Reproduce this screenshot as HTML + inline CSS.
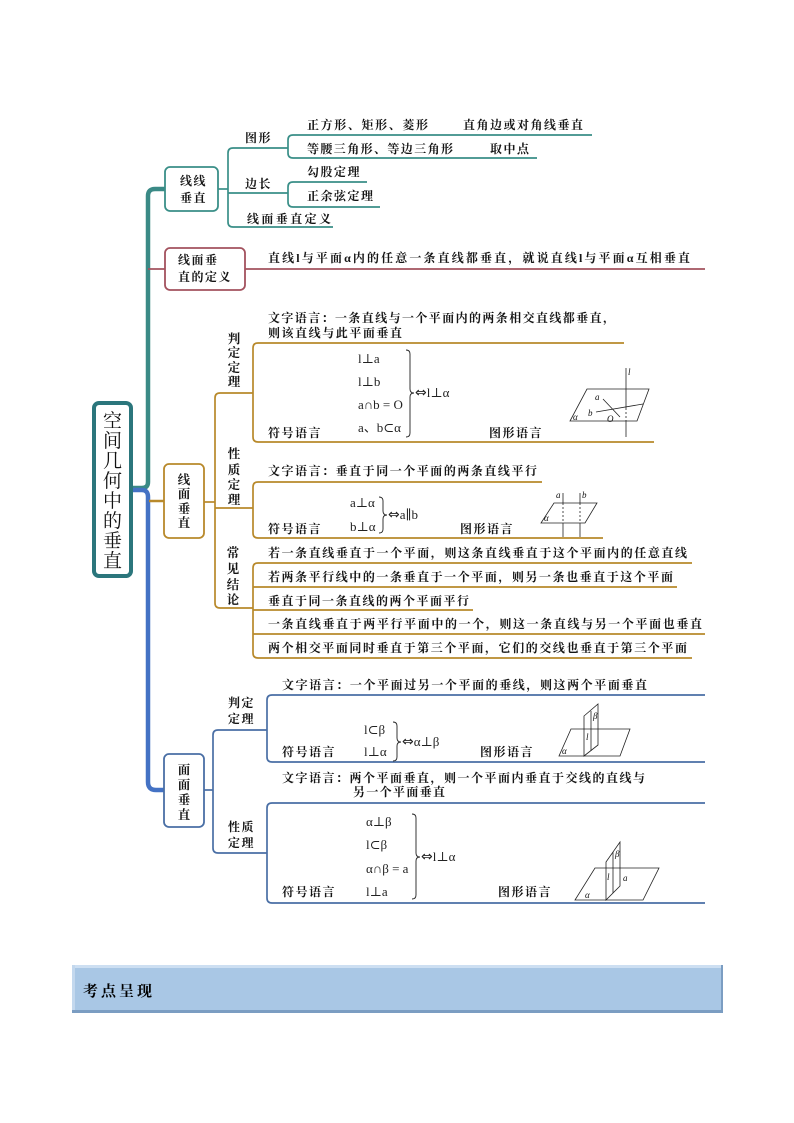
<!DOCTYPE html>
<html><head><meta charset="utf-8">
<style>
html,body{margin:0;padding:0;background:#fff;}
svg{display:block;}
.t{font-family:"Liberation Serif","Noto Serif CJK SC",serif;font-size:12px;font-weight:700;fill:#151515;letter-spacing:1.5px;}
.L{letter-spacing:0;}
.v{font-family:"Liberation Serif","Noto Serif CJK SC",serif;font-size:12.5px;font-weight:700;fill:#151515;text-anchor:middle;}
.r{font-family:"Liberation Serif","Noto Serif CJK SC",serif;font-size:19px;fill:#111;text-anchor:middle;}
.m{font-family:"Liberation Serif","DejaVu Serif",serif;font-size:13px;fill:#222;}
.ar{font-family:"DejaVu Sans",sans-serif;font-size:14px;}
.f{font-family:"Liberation Serif","DejaVu Serif",serif;font-size:9px;font-style:italic;fill:#111;}
.fig{stroke:#222;stroke-width:0.8;fill:none;}
.dash{stroke:#222;stroke-width:0.8;fill:none;stroke-dasharray:2 2;}
.br{stroke:#222;stroke-width:0.9;fill:none;}
.tl{stroke:#3a8f88;stroke-width:1.7;fill:none;}
.mr{stroke:#a3525e;stroke-width:1.7;fill:none;}
.bn{stroke:#b8892b;stroke-width:1.7;fill:none;}
.bl{stroke:#4a6fa5;stroke-width:1.7;fill:none;}
</style></head>
<body>
<svg width="794" height="1123" viewBox="0 0 794 1123" xmlns="http://www.w3.org/2000/svg">
<rect width="794" height="1123" fill="#fff"/>

<!-- trunks -->
<path d="M131,488 H142 Q148,488 148,482 V196 Q148,189 155,189 H165" stroke="#3a8a86" stroke-width="4.5" fill="none"/>
<path d="M148,269 H165" class="mr"/>
<path d="M131,490 H142 Q148,490 148,497 V782 Q148,790 156,790 H164" stroke="#4472c4" stroke-width="4.5" fill="none"/>
<path d="M149,501 H164" stroke="#b8892b" stroke-width="2.5" fill="none"/>

<!-- root box -->
<rect x="94" y="403" width="37" height="173" rx="5" fill="#fff" stroke="#2b767c" stroke-width="4"/>
<text class="r" x="112.5" y="427">空</text>
<text class="r" x="112.5" y="447">间</text>
<text class="r" x="112.5" y="467">几</text>
<text class="r" x="112.5" y="487">何</text>
<text class="r" x="112.5" y="507">中</text>
<text class="r" x="112.5" y="527">的</text>
<text class="r" x="112.5" y="547">垂</text>
<text class="r" x="112.5" y="567">直</text>

<!-- ===== 线线垂直 ===== -->
<rect x="165" y="167" width="53" height="44" rx="5" fill="#fff" stroke="#3a8f88" stroke-width="1.8"/>
<text class="t" x="180" y="185">线线</text>
<text class="t" x="180" y="202">垂直</text>
<path class="tl" d="M218,189 H228"/>
<path class="tl" d="M288,148 H233 Q228,148 228,153 V222 Q228,227 233,227 H333"/>
<path class="tl" d="M228,193 H288"/>
<path class="tl" d="M592,135 H293 Q288,135 288,140 V153 Q288,158 293,158 H537"/>
<path class="tl" d="M367,182 H293 Q288,182 288,187 V202 Q288,207 293,207 H380"/>
<text class="t" x="245" y="142">图形</text>
<text class="t" x="245" y="188">边长</text>
<text class="t L" x="247" y="223" textLength="84" lengthAdjust="spacing">线面垂直定义</text>
<text class="t L" x="307" y="129" textLength="121" lengthAdjust="spacing">正方形、矩形、菱形</text>
<text class="t L" x="463" y="129" textLength="120" lengthAdjust="spacing">直角边或对角线垂直</text>
<text class="t L" x="307" y="153" textLength="146" lengthAdjust="spacing">等腰三角形、等边三角形</text>
<text class="t" x="490" y="153">取中点</text>
<text class="t" x="307" y="176">勾股定理</text>
<text class="t" x="307" y="200">正余弦定理</text>

<!-- ===== 线面垂直的定义 ===== -->
<rect x="165" y="248" width="80" height="42" rx="5" fill="#fff" stroke="#a3525e" stroke-width="1.8"/>
<text class="t" x="178" y="264">线面垂</text>
<text class="t" x="178" y="281">直的定义</text>
<path class="mr" d="M245,269 H705"/>
<text class="t L" x="268" y="262" textLength="422" lengthAdjust="spacing">直线l与平面α内的任意一条直线都垂直，就说直线l与平面α互相垂直</text>

<!-- ===== 线面垂直 ===== -->
<rect x="164" y="464" width="40" height="74" rx="5" fill="#fff" stroke="#b8892b" stroke-width="1.8"/>
<text class="v" x="184" y="484">线</text>
<text class="v" x="184" y="498">面</text>
<text class="v" x="184" y="513">垂</text>
<text class="v" x="184" y="527">直</text>
<path class="bn" d="M204,502 H215"/>
<path class="bn" d="M253,393 H220 Q215,393 215,398 V603 Q215,608 220,608 H253"/>
<path class="bn" d="M215,508 H253"/>
<path class="bn" d="M624,343 H258 Q253,343 253,348 V437 Q253,442 258,442 H654"/>
<path class="bn" d="M542,482 H258 Q253,482 253,487 V533 Q253,538 258,538 H603"/>
<path class="bn" d="M692,563 H258 Q253,563 253,568 V653 Q253,658 258,658 H692"/>
<path class="bn" d="M253,587 H677 M253,610 H473 M253,634 H705"/>

<!-- 判定定理 -->
<text class="v" x="234" y="343">判</text>
<text class="v" x="234" y="357">定</text>
<text class="v" x="234" y="372">定</text>
<text class="v" x="234" y="386">理</text>
<text class="t L" x="268" y="322" textLength="347" lengthAdjust="spacing">文字语言：一条直线与一个平面内的两条相交直线都垂直，</text>
<text class="t L" x="268" y="337" textLength="134" lengthAdjust="spacing">则该直线与此平面垂直</text>
<text class="m" x="358" y="363">l⊥a</text>
<text class="m" x="358" y="386">l⊥b</text>
<text class="m" x="358" y="409">a∩b = O</text>
<text class="m" x="358" y="432">a、b⊂α</text>
<path class="br" d="M406,350 Q410,350 410,354 V389 Q410,393 414,393 Q410,393 410,397 V433 Q410,437 406,437"/>
<text class="m" x="415" y="397"><tspan class="ar">⇔</tspan>l⊥α</text>
<text class="t" x="268" y="437">符号语言</text>
<text class="t" x="489" y="437">图形语言</text>
<!-- fig1 -->
<polygon class="fig" points="587,389 649,389 637,421 570,421"/>
<line class="fig" x1="626" y1="368" x2="626" y2="408"/>
<line class="dash" x1="626" y1="408" x2="626" y2="421"/>
<line class="fig" x1="626" y1="421" x2="626" y2="437"/>
<line class="fig" x1="603" y1="399" x2="620" y2="417"/>
<line class="fig" x1="596" y1="412" x2="643" y2="404"/>
<text class="f" x="628" y="375">l</text>
<text class="f" x="595" y="400">a</text>
<text class="f" x="588" y="416">b</text>
<text class="f" x="607" y="422">O</text>
<text class="f" x="573" y="420">α</text>

<!-- 性质定理 -->
<text class="v" x="234" y="458">性</text>
<text class="v" x="234" y="474">质</text>
<text class="v" x="234" y="489">定</text>
<text class="v" x="234" y="504">理</text>
<text class="t L" x="268" y="475" textLength="269" lengthAdjust="spacing">文字语言：垂直于同一个平面的两条直线平行</text>
<text class="m" x="350" y="507">a⊥α</text>
<text class="m" x="350" y="531">b⊥α</text>
<path class="br" d="M379,497 Q383,497 383,501 V511 Q383,515 387,515 Q383,515 383,519 V529 Q383,533 379,533"/>
<text class="m" x="388" y="519"><tspan class="ar">⇔</tspan>a∥b</text>
<text class="t" x="268" y="533">符号语言</text>
<text class="t" x="460" y="533">图形语言</text>
<!-- fig2 -->
<polygon class="fig" points="554,503 597,503 585,523 541,523"/>
<line class="fig" x1="563" y1="493" x2="563" y2="503"/>
<line class="dash" x1="563" y1="503" x2="563" y2="523"/>
<line class="fig" x1="563" y1="523" x2="563" y2="537"/>
<line class="fig" x1="580" y1="493" x2="580" y2="503"/>
<line class="dash" x1="580" y1="503" x2="580" y2="523"/>
<line class="fig" x1="580" y1="523" x2="580" y2="537"/>
<text class="f" x="556" y="498">a</text>
<text class="f" x="582" y="498">b</text>
<text class="f" x="544" y="521">α</text>

<!-- 常见结论 -->
<text class="v" x="233" y="557">常</text>
<text class="v" x="233" y="573">见</text>
<text class="v" x="233" y="589">结</text>
<text class="v" x="233" y="604">论</text>
<text class="t L" x="268" y="557" textLength="419" lengthAdjust="spacing">若一条直线垂直于一个平面，则这条直线垂直于这个平面内的任意直线</text>
<text class="t L" x="268" y="581" textLength="405" lengthAdjust="spacing">若两条平行线中的一条垂直于一个平面，则另一条也垂直于这个平面</text>
<text class="t L" x="268" y="605" textLength="201" lengthAdjust="spacing">垂直于同一条直线的两个平面平行</text>
<text class="t L" x="268" y="628" textLength="434" lengthAdjust="spacing">一条直线垂直于两平行平面中的一个，则这一条直线与另一个平面也垂直</text>
<text class="t L" x="268" y="652" textLength="419" lengthAdjust="spacing">两个相交平面同时垂直于第三个平面，它们的交线也垂直于第三个平面</text>

<!-- ===== 面面垂直 ===== -->
<rect x="164" y="754" width="40" height="73" rx="5" fill="#fff" stroke="#4a6fa5" stroke-width="1.8"/>
<text class="v" x="184" y="774">面</text>
<text class="v" x="184" y="789">面</text>
<text class="v" x="184" y="804">垂</text>
<text class="v" x="184" y="819">直</text>
<path class="bl" d="M204,790 H213"/>
<path class="bl" d="M267,730 H218 Q213,730 213,735 V848 Q213,853 218,853 H267"/>
<path class="bl" d="M705,695 H272 Q267,695 267,700 V757 Q267,762 272,762 H705"/>
<path class="bl" d="M705,803 H272 Q267,803 267,808 V898 Q267,903 272,903 H705"/>

<text class="t" x="228" y="707">判定</text>
<text class="t" x="228" y="723">定理</text>
<text class="t L" x="282" y="689" textLength="365" lengthAdjust="spacing">文字语言：一个平面过另一个平面的垂线，则这两个平面垂直</text>
<text class="m" x="364" y="734">l⊂β</text>
<text class="m" x="364" y="756">l⊥α</text>
<path class="br" d="M393,722 Q397,722 397,726 V738 Q397,742 401,742 Q397,742 397,746 V757 Q397,761 393,761"/>
<text class="m" x="402" y="746"><tspan class="ar">⇔</tspan>α⊥β</text>
<text class="t" x="282" y="756">符号语言</text>
<text class="t" x="480" y="756">图形语言</text>
<!-- fig3 -->
<polygon class="fig" points="571,729 630,729 620,756 559,756"/>
<polygon class="fig" points="584,756 584,716 598,704 598,745" fill="#fff"/>
<line class="fig" x1="591" y1="711" x2="591" y2="751"/>
<text class="f" x="593" y="719">β</text>
<text class="f" x="586" y="740">l</text>
<text class="f" x="562" y="754">α</text>

<text class="t" x="228" y="831">性质</text>
<text class="t" x="228" y="847">定理</text>
<text class="t L" x="282" y="782" textLength="363" lengthAdjust="spacing">文字语言：两个平面垂直，则一个平面内垂直于交线的直线与</text>
<text class="t L" x="353" y="796" textLength="92" lengthAdjust="spacing">另一个平面垂直</text>
<text class="m" x="366" y="826">α⊥β</text>
<text class="m" x="366" y="849">l⊂β</text>
<text class="m" x="366" y="873">α∩β = a</text>
<text class="m" x="366" y="896">l⊥a</text>
<path class="br" d="M412,814 Q416,814 416,818 V853 Q416,857 420,857 Q416,857 416,861 V895 Q416,899 412,899"/>
<text class="m" x="421" y="861"><tspan class="ar">⇔</tspan>l⊥α</text>
<text class="t" x="282" y="896">符号语言</text>
<text class="t" x="498" y="896">图形语言</text>
<!-- fig4 -->
<polygon class="fig" points="595,868 659,868 643,900 575,900"/>
<polygon class="fig" points="606,900 606,862 620,842 620,886" fill="#fff"/>
<line class="fig" x1="613" y1="852" x2="613" y2="893"/>
<text class="f" x="615" y="857">β</text>
<text class="f" x="607" y="880">l</text>
<text class="f" x="623" y="881">a</text>
<text class="f" x="585" y="898">α</text>

<!-- ===== banner ===== -->
<rect x="72" y="965" width="651" height="48" fill="#7b9dc2"/>
<rect x="72" y="965" width="649" height="45" fill="#a9c7e5"/>
<rect x="72" y="965" width="649" height="3" fill="#cddff2"/>
<rect x="72" y="965" width="3" height="45" fill="#c3d8ee"/>
<text x="83" y="996" style="font-family:'Liberation Serif','Noto Serif CJK SC',serif;font-size:15px;font-weight:700;letter-spacing:3px;fill:#000">考点呈现</text>
</svg>
</body></html>
